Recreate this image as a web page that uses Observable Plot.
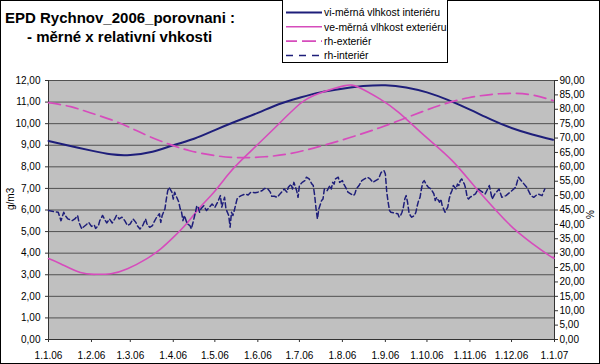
<!DOCTYPE html>
<html><head><meta charset="utf-8">
<script src="https://cdn.jsdelivr.net/npm/d3@7"></script>
<script src="https://cdn.jsdelivr.net/npm/@observablehq/plot@0.6"></script>
<style>
body{margin:0;background:#fff;}
#wrap{position:relative;width:600px;height:364px;overflow:hidden;font-family:"Liberation Sans",Arial,sans-serif;}
#chart{position:absolute;left:0;top:0;}
#over{position:absolute;left:0;top:0;pointer-events:none;}
</style></head>
<body>
<div id="wrap"><div id="chart"></div>
<svg id="over" width="600" height="364" xmlns="http://www.w3.org/2000/svg" font-family="Liberation Sans, Arial, sans-serif">
  <rect x="0.5" y="0.5" width="599" height="363" fill="none" stroke="#000" stroke-width="1"/>
  <text x="5" y="23" font-size="15" font-weight="bold" fill="#000">EPD Rychnov_2006_porovnani :</text>
  <text x="27" y="42" font-size="15" font-weight="bold" fill="#000">- měrné x relativní vhkosti</text>
  <rect x="282.5" y="-1" width="165" height="63.5" fill="#fff" stroke="#000" stroke-width="1"/>
  <g id="legend"></g>
</svg>
</div>
<script>
// ---------- data ----------
const monthTicks = ["2006-01-01","2006-02-01","2006-03-01","2006-04-01","2006-05-01","2006-06-01","2006-07-01","2006-08-01","2006-09-01","2006-10-01","2006-11-01","2006-12-01","2007-01-01"];
const leftTicks = [0,1,2,3,4,5,6,7,8,9,10,11,12];
const rightTicks = [0,5,10,15,20,25,30,35,40,45,50,55,60,65,70,75,80,85,90];

const seriesNames = ["vi-měrná vlhkost interiéru","ve-měrná vlhkost exteriéru","rh-exteriér","rh-interiér"];

// vi – specific humidity interior (g/m3), day of year
const viDay = [0,15,31,45,59,75,90,105,120,135,151,166,181,196,212,227,243,258,273,288,304,319,334,349,364];
const vi    = [9.2,8.98,8.75,8.58,8.55,8.7,9.0,9.3,9.7,10.1,10.5,10.9,11.2,11.45,11.62,11.74,11.78,11.68,11.45,11.1,10.65,10.2,9.8,9.5,9.25];

// ve – specific humidity exterior (g/m3)
const veDay = [0,9,23,34,45,57,71,81,90,100,109,119,129,139,160,181,195,213,224,239,253,272,291,308,323,339,361,364];
const ve    = [3.75,3.5,3.1,3.02,3.05,3.28,3.75,4.2,4.73,5.4,6.1,6.8,7.6,8.3,9.6,10.9,11.4,11.75,11.68,11.15,10.5,9.4,8.3,7.04,5.97,4.95,3.9,3.82];

// rh exterior (%)
const rhExtDay = [0,16,30,45,59,73,88,102,120,138,156,174,195,217,239,260,282,303,325,346,364];
const rhExt    = [82.3,80.9,78.8,76.4,73.6,70.5,67.7,65.6,63.9,63.2,63.5,64.6,67.0,70.1,73.6,77.4,81.3,84.0,85.4,85.2,83.0];

// rh interior (%)
const rhIntDay = [0,4,7,9,11,12,14,17,19,21,22,24,25,27,29,31,33,34,36,37,39,41,42,44,46,48,49,51,53,55,57,59,61,
 63,64,66,68,70,71,73,75,76,78,80,81,82,84,85,86,87,89,90,91,92,94,95,96,97,98,100,102,103,104,106,107,108,109,110,112,114,115,118,120,122,
 124,125,126,127,128,130,131,132,133,134,136,137,139,142,144,146,149,151,154,156,158,160,161,163,165,167,169,170,172,173,175,176,177,179,180,181,183,
 185,186,188,190,191,192,193,194,195,197,198,199,201,203,204,205,206,207,209,210,212,213,215,216,218,220,221,222,224,226,228,230,232,234,236,238,240,242,243,244,245,
 246,247,249,252,253,254,255,256,257,258,259,260,261,262,264,265,266,267,268,269,270,271,273,274,276,278,279,280,282,283,284,285,286,288,289,290,291,292,294,295,296,297,298,300,301,302,303,304,306,
 308,310,313,315,318,320,322,325,327,330,333,337,339,342,345,348,350,353,356,358];
const rhInt = [44.8,44.4,44.2,41.3,44.2,43.1,41.9,41.3,41.9,43.1,40.7,38.4,39.0,39.8,40.7,39.3,39.8,38.6,39.6,41.3,43.1,41.3,40.5,41.9,40.5,42.1,43.1,41.9,42.5,41.3,39.6,40.2,41.9,
 40.7,39.6,38.4,39.6,41.9,40.2,39.0,39.6,40.7,42.5,43.7,40.7,43.1,45.4,48.8,51.7,52.9,51.2,48.8,51.2,50.0,47.7,45.4,44.2,41.3,43.1,40.2,39.6,38.4,40.2,44.2,46.5,45.9,44.2,45.4,46.5,44.8,45.4,47.1,45.9,47.7,
 50.0,46.0,47.7,49.4,45.4,43.1,39.0,44.2,43.1,44.8,48.8,49.4,50.0,50.6,50.2,51.2,51.0,51.2,51.7,52.5,52.5,51.2,49.8,49.8,49.4,50.6,51.7,52.3,51.2,52.9,54.0,52.3,54.6,51.7,49.4,53.5,54.6,
 55.2,56.4,55.8,54.0,53.5,50.0,45.4,41.9,45.4,48.3,48.8,52.3,51.7,53.5,52.3,54.6,54.0,55.8,56.4,54.6,55.2,54.0,52.3,51.2,50.6,50.0,50.6,52.3,53.5,55.2,55.8,56.4,55.8,54.6,55.2,55.8,58.1,58.7,57.5,51.2,47.7,
 44.8,44.2,44.0,43.7,42.5,43.1,44.2,46.0,48.8,50.0,47.7,44.2,43.1,42.5,43.1,44.2,46.5,48.3,49.4,52.3,54.6,55.2,53.5,52.9,52.3,50.6,48.3,49.4,47.7,48.8,46.5,45.4,44.2,46.0,48.8,50.6,51.7,53.5,52.3,54.0,53.5,55.2,55.8,54.0,52.3,49.4,48.8,49.4,50.0,
 50.6,52.3,51.2,50.6,53.5,48.8,50.6,52.3,49.4,50.0,51.2,52.9,56.4,54.6,52.9,50.0,49.4,50.6,50.0,52.3];

// ---------- build ----------
const NAVY = "#1e1e7a", MAG = "#d64cbc";
const RATIO = 90 / 12; // right axis % per left axis g/m3
const d0 = Date.UTC(2006, 0, 1);
const toDate = n => new Date(d0 + n * 864e5);
const mk = (days, vals) => days.map((t, i) => ({date: toDate(t), v: vals[i]}));
const viData = mk(viDay, vi), veData = mk(veDay, ve), rhExtData = mk(rhExtDay, rhExt), rhIntData = mk(rhIntDay, rhInt);
const fmt = v => (Math.round(v * 100) / 100).toFixed(2).replace(".", ",");
const ticksX = monthTicks.map(s => new Date(s + "T00:00:00Z"));
const xFmt = d => `${d.getUTCDate()}.${d.getUTCMonth() + 1}.${String(d.getUTCFullYear()).slice(2)}`;

const plot = Plot.plot({
  width: 600, height: 364,
  marginLeft: 48, marginRight: 46, marginTop: 80, marginBottom: 25,
  style: {fontFamily: "Liberation Sans, Arial, sans-serif", fontSize: "10px", background: "#fff", color: "#000", overflow: "visible"},
  x: {type: "utc", domain: [ticksX[0], ticksX[ticksX.length - 1]]},
  y: {domain: [0, 12]},
  marks: [
    Plot.frame({fill: "#c0c0c0", stroke: null}),
    Plot.gridY(leftTicks, {stroke: "#505050", strokeOpacity: 1, strokeWidth: 1}),
    Plot.ruleX([ticksX[0], ticksX[ticksX.length - 1]], {stroke: "#333", strokeWidth: 1}),
    Plot.ruleY([0], {stroke: "#333", strokeWidth: 1}),
    Plot.axisY(leftTicks, {anchor: "left", tickFormat: fmt, tickSize: 3, tickPadding: 5, label: null, stroke: "#333"}),
    Plot.axisY(rightTicks.map(p => p / RATIO), {anchor: "right", tickFormat: p => fmt(p * RATIO), tickSize: 3, tickPadding: 2, label: null, stroke: "#333"}),
    Plot.axisX(ticksX, {anchor: "bottom", tickFormat: xFmt, tickSize: 3, tickPadding: 9, label: null, stroke: "#333"}),
    Plot.text(["g/m3"], {frameAnchor: "left", dx: -38, rotate: -90, fontSize: 10}),
    Plot.text(["%"], {frameAnchor: "right", dx: 36, rotate: -90, fontSize: 10}),
    Plot.line(viData, {x: "date", y: "v", stroke: NAVY, strokeWidth: 2, curve: "natural"}),
    Plot.line(veData, {x: "date", y: "v", stroke: MAG, strokeWidth: 1.6, curve: "natural"}),
    Plot.line(rhExtData, {x: "date", y: d => d.v / RATIO, stroke: MAG, strokeWidth: 1.7, strokeDasharray: "12,6", curve: "natural"}),
    Plot.line(rhIntData, {x: "date", y: d => d.v / RATIO, stroke: NAVY, strokeWidth: 1.5, strokeDasharray: "5,3"})
  ]
});
document.getElementById("chart").appendChild(plot);

// legend
const styles = [
  {stroke: NAVY, dash: null, w: 1.8},
  {stroke: MAG, dash: null, w: 1.6},
  {stroke: MAG, dash: "14,5", w: 1.6},
  {stroke: NAVY, dash: "7,6", w: 1.5}
];
const lg = d3.select("#legend");
seriesNames.forEach((name, i) => {
  const y = 12.5 + i * 14.3;
  const s = styles[i];
  const l = lg.append("line").attr("x1", 286).attr("x2", 322).attr("y1", y).attr("y2", y)
    .attr("stroke", s.stroke).attr("stroke-width", s.w);
  if (s.dash) l.attr("stroke-dasharray", s.dash).attr("stroke-dashoffset", i === 2 ? -16 : 0);
  lg.append("text").attr("x", 324).attr("y", y + 3.7).attr("font-size", 10.4).attr("fill", "#000").text(name);
});
</script>
</body></html>
